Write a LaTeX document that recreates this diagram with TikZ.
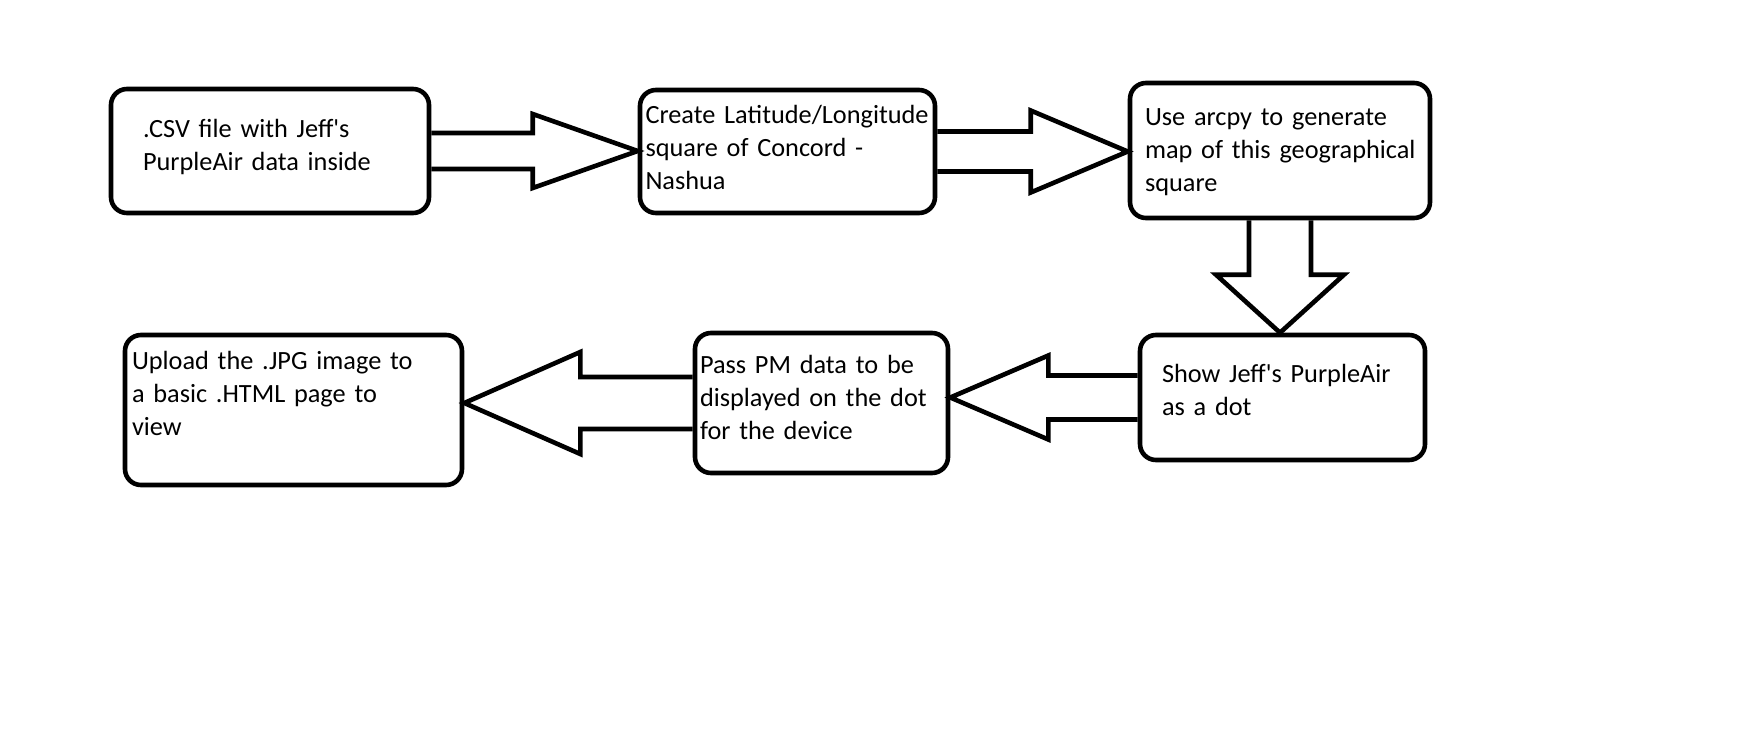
\documentclass[tikz,border=0pt]{standalone}
\usepackage{fontspec}
\setmainfont{Carlito}
\usetikzlibrary{calc}

\tikzset{
  box/.style={draw, line width=4.6pt, rounded corners=16pt, inner sep=0pt,
    align=left, text height=20pt, font=\fontsize{26.3}{33}\selectfont},
  blockarrow/.style={draw, line width=4.6pt, miter limit=10}
}
\newcommand{\apos}{\textquotesingle}

\begin{document}
\begin{tikzpicture}[x=1pt,y=-1pt]
  \useasboundingbox (0,0) rectangle (1763,729);

  % top row
  \node[box, minimum width=318pt, minimum height=124pt, text width=254pt, text depth=48pt]
    (csv) at (270,151) {.CSV file with Jeff\apos s\\PurpleAir data inside};
  \node[box, minimum width=295pt, minimum height=123pt, text width=284pt, text depth=77pt]
    (latlon) at (787.5,151.5) {\mbox{Create Latitude/Longitude}\\square of Concord -\\Nashua};
  \node[box, minimum width=300pt, minimum height=135pt, text width=270pt, text depth=71pt]
    (arcpy) at (1280,150.5) {Use arcpy to generate\\\mbox{map of this geographical}\\square};

  % bottom row
  \node[box, minimum width=285pt, minimum height=125pt, text width=241pt, text depth=51pt]
    (dot) at (1282.5,397.5) {Show Jeff\apos s PurpleAir\\as a dot};
  \node[box, minimum width=253pt, minimum height=140pt, text width=243pt, text depth=80pt]
    (pm) at (821.5,403) {Pass PM data to be\\displayed on the dot\\for the device};
  \node[box, minimum width=337pt, minimum height=150pt, text width=323pt, text depth=102pt]
    (html) at (293.5,410) {Upload the .JPG image to\\a basic .HTML page to\\view};

  % arrow tips
  \coordinate (t1) at (latlon.west |- csv.east);
  \coordinate (t2) at (arcpy.west |- latlon.east);
  \coordinate (t3) at (dot.north -| arcpy.south);
  \coordinate (t4) at (pm.east |- dot.west);
  \coordinate (t5) at (html.east |- pm.west);

  \draw[blockarrow] ($(csv.east)+(0,-18)$) -- ($(t1)+(-105,-18)$) -- ++(0,-19) -- (t1)
    -- ($(t1)+(-105,37)$) -- ++(0,-19) -- ($(csv.east)+(0,18)$);
  \draw[blockarrow] ($(latlon.east)+(0,-20)$) -- ($(t2)+(-97,-20)$) -- ++(0,-21) -- (t2)
    -- ($(t2)+(-97,41)$) -- ++(0,-21) -- ($(latlon.east)+(0,20)$);
  \draw[blockarrow] ($(arcpy.south)+(-31,0)$) -- ($(t3)+(-31,-58)$) -- ++(-33,0) -- (t3)
    -- ($(t3)+(64,-58)$) -- ++(-33,0) -- ($(arcpy.south)+(31,0)$);
  \draw[blockarrow] ($(dot.west)+(0,-22)$) -- ($(t4)+(98,-22)$) -- ++(0,-20) -- (t4)
    -- ($(t4)+(98,42)$) -- ++(0,-20) -- ($(dot.west)+(0,22)$);
  \draw[blockarrow] ($(pm.west)+(0,-26)$) -- ($(t5)+(116,-26)$) -- ++(0,-25) -- (t5)
    -- ($(t5)+(116,51)$) -- ++(0,-25) -- ($(pm.west)+(0,26)$);
\end{tikzpicture}
\end{document}
